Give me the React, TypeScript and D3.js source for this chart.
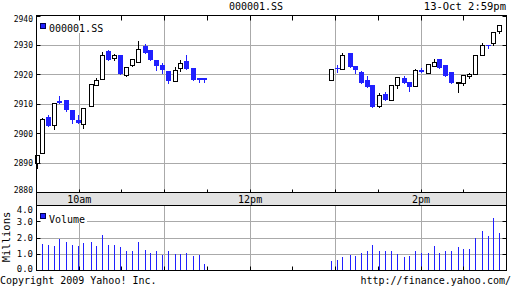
import React from "react";
import * as d3 from "d3";

// candle times, minutes since midnight (trading day 9:30 - 15:00)
const times = [
  570.7, 574.1, 578.3, 582.5, 586.0, 590.9, 595.1, 599.3, 602.9, 608.3,
  612.0, 616.2, 620.4, 625.1, 628.8, 633.1, 637.3, 641.5, 646.2, 649.9,
  654.1, 658.3, 663.0, 667.7, 671.0, 675.2, 680.4, 684.3, 688.1,
  776.8, 781.2, 784.7, 790.3, 793.8, 798.1, 802.3, 805.8, 810.7, 814.9,
  819.1, 823.3, 828.5, 831.8, 836.3, 840.2, 845.1, 849.3, 852.8, 857.0,
  861.3, 866.2, 869.7, 873.9, 878.1, 883.0, 887.2, 890.7, 895.0,
];
const open = [
  2889.9, 2893.5, 2905.6, 2902.8, 2911.1, 2911.3, 2907.9, 2904.8, 2903.4, 2909.3,
  2916.6, 2918.7, 2928.1, 2925.7, 2926.9, 2920.0, 2923.4, 2924.3, 2929.7, 2928.5,
  2925.2, 2923.4, 2921.2, 2917.8, 2922.4, 2924.6, 2922.4, 2918.8, 2918.8,
  2918.3, 2922.3, 2922.1, 2927.3, 2923.1, 2920.8, 2918.1, 2916.7, 2909.3, 2913.6,
  2911.5, 2916.7, 2919.0, 2917.4, 2916.3, 2921.5, 2920.7, 2923.1, 2925.5, 2923.2,
  2920.8, 2917.4, 2917.2, 2919.5, 2920.4, 2926.9, 2930.3, 2930.8, 2934.9,
];
const high = [
  2892.6, 2905.4, 2906.2, 2910.5, 2912.7, 2911.3, 2907.9, 2906.5, 2908.8, 2917.0,
  2919.0, 2927.7, 2928.6, 2927.2, 2926.9, 2922.6, 2925.5, 2931.4, 2930.6, 2928.5,
  2925.2, 2924.1, 2921.2, 2922.5, 2925.1, 2926.6, 2922.4, 2918.8, 2918.8,
  2922.1, 2923.4, 2927.3, 2927.3, 2923.1, 2921.3, 2919.6, 2916.7, 2913.7, 2914.3,
  2916.7, 2919.2, 2919.6, 2917.4, 2922.1, 2922.4, 2923.8, 2925.5, 2925.5, 2923.2,
  2920.8, 2917.6, 2919.8, 2920.7, 2926.9, 2930.9, 2930.3, 2934.7, 2937.0,
];
const low = [
  2888.2, 2893.5, 2902.6, 2901.7, 2910.5, 2907.7, 2903.7, 2903.7, 2902.0, 2909.3,
  2916.6, 2918.7, 2925.0, 2924.9, 2920.4, 2919.6, 2923.0, 2924.3, 2927.5, 2924.9,
  2921.5, 2920.7, 2917.2, 2917.8, 2921.2, 2922.1, 2918.1, 2917.5, 2917.5,
  2918.3, 2920.9, 2922.1, 2922.8, 2920.7, 2917.2, 2915.8, 2909.0, 2908.9, 2911.4,
  2911.5, 2915.5, 2917.3, 2914.5, 2916.3, 2920.9, 2920.7, 2923.1, 2922.4, 2919.6,
  2917.2, 2914.1, 2916.7, 2919.0, 2920.4, 2926.9, 2929.2, 2930.0, 2934.3,
];
const close = [
  2892.6, 2905.1, 2902.6, 2910.5, 2910.5, 2908.2, 2904.7, 2903.7, 2908.8, 2917.0,
  2918.3, 2926.8, 2925.0, 2926.8, 2920.4, 2922.6, 2925.5, 2928.9, 2927.5, 2925.2,
  2923.0, 2921.5, 2917.8, 2921.7, 2924.1, 2922.1, 2918.1, 2918.2, 2918.2,
  2922.1, 2922.0, 2926.9, 2922.8, 2921.7, 2917.2, 2915.8, 2909.0, 2913.2, 2911.4,
  2916.7, 2919.2, 2917.3, 2915.8, 2921.7, 2920.9, 2923.8, 2924.3, 2922.4, 2919.6,
  2917.2, 2917.6, 2919.8, 2920.4, 2926.9, 2930.0, 2930.1, 2934.7, 2937.0,
];
// volume in millions
const volume = [
  0, 1.66, 1.6, 1.53, 1.94, 1.78, 1.6, 1.53, 1.72, 1.78,
  1.53, 2.21, 1.6, 1.6, 1.47, 1.17, 1.17, 1.78, 1.29, 1.1,
  1.17, 0.98, 1.23, 1.04, 1.04, 1.1, 0.92, 0.98, 0.43,
  0.61, 0.67, 0.86, 0.98, 0.92, 1.1, 1.23, 1.6, 1.23, 1.17,
  1.23, 1.04, 0.86, 0.92, 1.23, 1.1, 1.1, 1.53, 1.1, 1.17,
  1.23, 1.47, 1.35, 1.35, 2.02, 2.45, 2.15, 3.25, 2.33,
];

const priceTicks = [2880, 2890, 2900, 2910, 2920, 2930, 2940];
const volumeTicks = [0, 1, 2, 3, 4];
const volumeTickLabels = ["0.0", "1.0", "2.0", "3.0", "4.0"];
const hourLines = [600, 660, 720, 780, 840];
const timeLabelTimes = [600, 720, 840];
const timeLabels = ["10am", "12pm", "2pm"];

const symbol = "000001.SS";
const stamp = "13-Oct 2:59pm";

const BLUE = "#2020ff";
const GRID = "#aaaaaa";
const MONO = "'DejaVu Sans Mono', monospace";

export default function App() {
  const L = 36.5, R = 506.5;
  const mainTop = 15.5, mainBot = 192.5;
  const bandBot = 205.5;
  const volTop = 205.5, volBot = 270.5;

  const x = d3.scaleLinear().domain([570, 900]).range([L, R]);
  const y = d3.scaleLinear().domain([2880, 2940]).range([192.5, 16]);
  const vy = d3.scaleLinear().domain([0, 4]).range([volBot, volTop]);
  const halfHours = d3.range(600, 900, 30);
  const crisp = (v: number) => Math.floor(v) + 0.5;
  const clamp = (v: number, a: number, b: number) => Math.max(a, Math.min(b, v));

  const candles = times.map((t, i) => ({
    t, o: open[i], h: high[i], l: low[i], c: close[i], v: volume[i],
  }));

  return (
    <svg width={512} height={288} style={{ position: "absolute", left: 0, top: 0, background: "#fff" }}
      fontFamily={MONO}>
      <rect x={0} y={0} width={512} height={288} fill="#fff" />
      {/* header */}
      <text x={256} y={10} fontSize={10} textAnchor="middle">{symbol}</text>
      <text x={506} y={10} fontSize={10.5} textAnchor="end">{stamp}</text>

      {/* main grid */}
      {priceTicks.slice(1, -1).map((p) => (
        <line key={"pg" + p} x1={L} x2={R} y1={crisp(y(p))} y2={crisp(y(p))} stroke={GRID} />
      ))}
      {hourLines.map((t) => (
        <line key={"hg" + t} x1={crisp(x(t))} x2={crisp(x(t))} y1={mainTop} y2={mainBot} stroke={GRID} />
      ))}
      {/* legend */}
      <rect x={37} y={16} width={67} height={17} fill="#fff" />
      <rect x={40.5} y={23.5} width={5} height={5} fill={BLUE} stroke="#000050" />
      <text x={49} y={32} fontSize={10}>{symbol}</text>

      {/* candles */}
      {candles.map((d, i) => {
        const cx = Math.floor(x(d.t));
        const up = d.c >= d.o;
        const yTop = Math.round(y(Math.max(d.o, d.c)));
        const yBot = Math.round(y(Math.min(d.o, d.c)));
        const col = up ? "#000" : BLUE;
        return (
          <g key={"c" + i}>
            <line x1={cx + 0.5} x2={cx + 0.5} y1={Math.round(y(d.h))} y2={Math.round(y(d.l)) + 1} stroke={col} />
            {up ? (
              <rect x={cx - 1.5} y={yTop + 0.5} width={4} height={Math.max(1, yBot - yTop)} fill="#fff" stroke="#000" />
            ) : (
              <rect x={cx - 2} y={yTop} width={5} height={Math.max(1, yBot - yTop)} fill={BLUE} />
            )}
          </g>
        );
      })}

      {/* main frame & ticks */}
      <rect x={L} y={mainTop} width={R - L} height={mainBot - mainTop} fill="none" stroke="#000" />
      {priceTicks.map((p) => (
        <g key={"pt" + p}>
          <line x1={L} x2={L + 4} y1={crisp(y(p))} y2={crisp(y(p))} stroke="#000" />
          <line x1={R - 4} x2={R} y1={crisp(y(p))} y2={crisp(y(p))} stroke="#000" />
          <text x={33} y={clamp(y(p), mainTop + 3, mainBot - 3) + 3} fontSize={8} textAnchor="end">{p}</text>
        </g>
      ))}
      {halfHours.map((t) => (
        <g key={"tt" + t}>
          <line x1={crisp(x(t))} x2={crisp(x(t))} y1={mainTop} y2={mainTop + 5} stroke="#000" />
          <line x1={crisp(x(t))} x2={crisp(x(t))} y1={mainBot - 3} y2={mainBot} stroke="#000" />
        </g>
      ))}

      {/* time band */}
      <rect x={L} y={mainBot} width={R - L} height={bandBot - mainBot} fill="#e2e2e2" stroke="#000" />
      {timeLabelTimes.map((t, i) => (
        <text key={"tl" + t} x={x(t)} y={203} fontSize={10} textAnchor="middle">{timeLabels[i]}</text>
      ))}

      {/* volume grid */}
      {volumeTicks.slice(1, -1).map((v) => (
        <line key={"vg" + v} x1={L} x2={R} y1={crisp(vy(v))} y2={crisp(vy(v))} stroke={GRID} />
      ))}
      {hourLines.map((t) => (
        <line key={"vhg" + t} x1={crisp(x(t))} x2={crisp(x(t))} y1={volTop} y2={volBot} stroke={GRID} />
      ))}
      <rect x={37} y={206} width={50} height={17} fill="#fff" />
      <rect x={40.5} y={213.5} width={5} height={5} fill={BLUE} stroke="#000050" />
      <text x={49} y={223} fontSize={10}>Volume</text>

      {candles.map((d, i) =>
        d.v > 0 ? (
          <line key={"v" + i} x1={Math.floor(x(d.t)) + 0.5} x2={Math.floor(x(d.t)) + 0.5}
            y1={volBot} y2={Math.round(vy(d.v))} stroke={BLUE} />
        ) : null
      )}

      <rect x={L} y={volTop} width={R - L} height={volBot - volTop} fill="none" stroke="#000" />
      {volumeTicks.map((v, i) => (
        <g key={"vt" + v}>
          <line x1={L} x2={L + 4} y1={crisp(vy(v))} y2={crisp(vy(v))} stroke="#000" />
          <line x1={R - 4} x2={R} y1={crisp(vy(v))} y2={crisp(vy(v))} stroke="#000" />
          <text x={33} y={clamp(vy(v), volTop + 4.5, volBot - 1.5) + 3} fontSize={9} textAnchor="end">{volumeTickLabels[i]}</text>
        </g>
      ))}
      {halfHours.map((t) => (
        <line key={"vb" + t} x1={crisp(x(t))} x2={crisp(x(t))} y1={volBot - 4} y2={volBot} stroke="#000" />
      ))}
      <text transform="translate(10,237) rotate(-90)" fontSize={10.5} textAnchor="middle">Millions</text>

      {/* footer */}
      <text x={0} y={284} fontSize={10}>Copyright 2009 Yahoo! Inc.</text>
      <text x={511} y={284} fontSize={10} textAnchor="end">http://finance.yahoo.com/</text>
    </svg>
  );
}
